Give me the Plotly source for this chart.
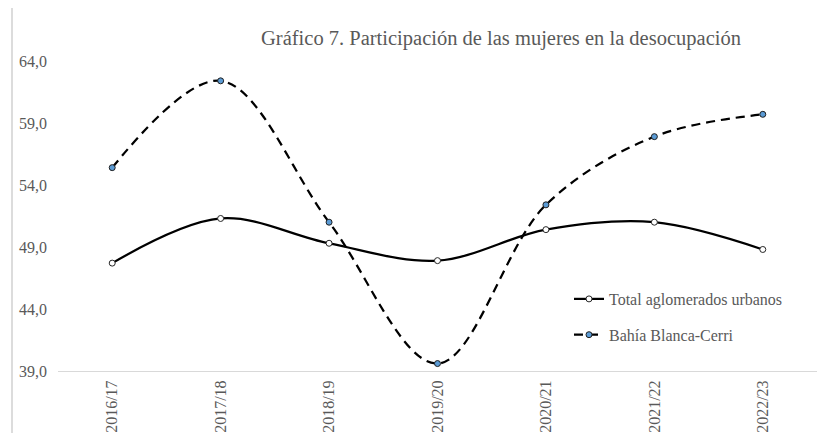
import plotly.graph_objects as go

categories = ["2016/17", "2017/18", "2018/19", "2019/20", "2020/21", "2021/22", "2022/23"]
total_aglomerados = [47.7, 51.3, 49.3, 47.9, 50.4, 51.0, 48.8]
bahia_blanca = [55.4, 62.4, 51.0, 39.6, 52.4, 57.9, 59.7]
y_ticks = [39, 44, 49, 54, 59, 64]
y_tick_labels = ["39,0", "44,0", "49,0", "54,0", "59,0", "64,0"]
title_text = "Gráfico 7. Participación de las mujeres en la desocupación"

FONT = "Liberation Serif"
GREY = "#595959"
OFF = 8  # page body margin in the browser

fig = go.Figure()
fig.add_trace(go.Scatter(
    x=categories, y=total_aglomerados, name="Total aglomerados urbanos",
    mode="lines+markers", legendgroup="a",
    line=dict(color="black", width=2.25, shape="spline", smoothing=1),
    marker=dict(symbol="circle", size=6, color="white", line=dict(color="#262626", width=1)),
))
fig.add_trace(go.Scatter(
    x=categories, y=bahia_blanca, name="Bahía Blanca-Cerri",
    mode="lines+markers", legendgroup="b",
    line=dict(color="black", width=2.25, dash="9px,6px", shape="spline", smoothing=1),
    marker=dict(symbol="circle", size=6, color="#5B9BD5", line=dict(color="#1f1f1f", width=1)),
))

frame_left = (12 - 58) / 759
frame_top = 1 + (61 - 6) / 310

fig.update_layout(
    width=825, height=433,
    margin=dict(l=58 - OFF, r=8 + OFF, t=61 - OFF, b=62 + OFF, autoexpand=False),
    paper_bgcolor="white", plot_bgcolor="white",
    font=dict(family=FONT, color=GREY, size=16),
    title=dict(text=title_text, x=(501 - OFF)/825, xref="container", xanchor="center",
               y=1 - (38 - OFF)/433, yref="container", yanchor="middle",
               font=dict(family=FONT, size=20.5, color=GREY)),
    showlegend=True,
    legend=dict(x=(569-58)/759, y=(371-282)/310, xanchor="left", yanchor="top",
                bgcolor="rgba(0,0,0,0)", font=dict(family=FONT, size=16, color=GREY),
                traceorder="grouped", tracegroupgap=12),
    xaxis=dict(type="category", range=[-0.5, 6.5], tickangle=-90, automargin=False,
               showline=True, linecolor="#d9d9d9", linewidth=1,
               showgrid=False, zeroline=False, ticks="", ticklabelstandoff=2,
               tickfont=dict(family=FONT, size=16, color=GREY)),
    yaxis=dict(range=[39, 64], tickvals=y_ticks, ticktext=y_tick_labels, automargin=False,
               showline=False, showgrid=False, zeroline=False, ticks="",
               ticklabelstandoff=10,
               tickfont=dict(family=FONT, size=16, color=GREY)),
    shapes=[
        dict(type="line", xref="paper", yref="paper", x0=frame_left, x1=frame_left,
             y0=-0.3, y1=frame_top, line=dict(color="#d0d0d0", width=1.5)),
        dict(type="line", xref="paper", yref="paper", x0=frame_left, x1=1.1,
             y0=frame_top, y1=frame_top, line=dict(color="#d0d0d0", width=1.5)),
    ],
)

fig.write_html("out.html")
